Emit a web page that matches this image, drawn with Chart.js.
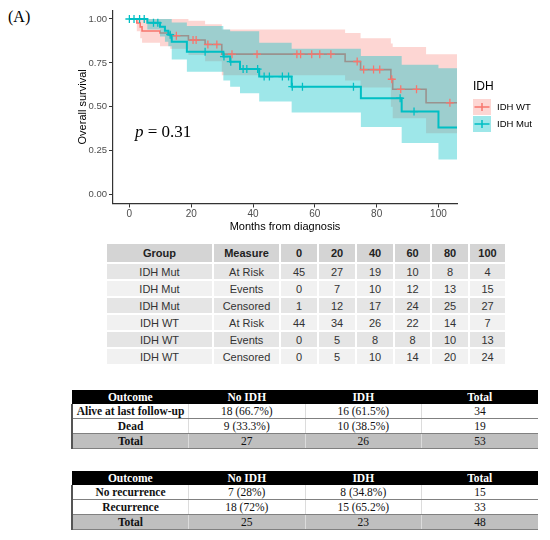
<!DOCTYPE html>
<html>
<head>
<meta charset="utf-8">
<script src="https://cdn.jsdelivr.net/npm/chart.js@4.4.1/dist/chart.umd.min.js"></script>
<style>
  html, body { margin: 0; padding: 0; background: #fff; }
  body { width: 550px; height: 540px; position: relative; overflow: hidden; }
  #panel { position: absolute; left: 8px; top: 8px; font: 16px/18px "Liberation Serif", serif; color: #000; }
  #km { position: absolute; left: 0; top: 0; }

  .risk { position: absolute; left: 107px; top: 244px; border-collapse: collapse; table-layout: fixed;
          font-family: "Liberation Sans", Arial, sans-serif; font-size: 11px; color: #333; }
  .risk th, .risk td { padding: 0; text-align: center; border-right: 2px solid #fff; border-bottom: 2px solid #fff; }
  .risk th { background: #d4d4d4; height: 18px; font-weight: bold; color: #222; }
  .risk td { height: 15px; }
  .risk tr:nth-child(odd) td { background: #f1f1f1; }
  .risk tr:nth-child(even) td { background: #e5e5e5; }

  .ct { position: absolute; left: 71px; width: 467px; border-collapse: collapse; table-layout: fixed;
        font-family: "Liberation Serif", serif; font-size: 11.5px; color: #111; }
  .ct th { background: #000; color: #fff; font-weight: bold; height: 14px; padding: 0; }
  .ct td { height: 14px; padding: 0; text-align: center; border-left: 1px solid #dcdcdc; border-bottom: 1px solid #808080; }
  .ct td:first-child { font-weight: bold; border-left: 2px solid #555; }
  .ct tr.tot td { background: #bfbfbf; }
</style>
</head>
<body>
<div id="panel">(A)</div>
<canvas id="km" width="550" height="240"></canvas>
<table class="risk" id="riskTable"></table>
<table class="ct" id="mortTable" style="top:390px"></table>
<table class="ct" id="recTable" style="top:471px"></table>

<script>
// Axis ticks
const xTicks = [0, 20, 40, 60, 80, 100];
const yTicks = [0, 0.25, 0.5, 0.75, 1];

// IDH WT: step times, survival and confidence band
const wtTime  = [0, 2.4, 3.5, 4.1, 9.9, 13.2, 19.1, 24.5, 29.9, 69.8, 74.8, 84.6, 85.2, 96.0, 106];
const wtSurv  = [1, 0.977, 0.955, 0.932, 0.920, 0.905, 0.880, 0.855, 0.800, 0.758, 0.712, 0.657, 0.600, 0.523, 0.523];
const wtUpper = [1, 1, 1, 1, 1, 1, 0.99, 0.97, 0.94, 0.92, 0.89, 0.86, 0.84, 0.80, 0.80];
const wtLower = [1, 0.93, 0.89, 0.865, 0.845, 0.83, 0.795, 0.76, 0.68, 0.65, 0.61, 0.50, 0.435, 0.35, 0.35];
const wtCensor = [15.2, 20.6, 21.6, 25.4, 28.3, 33.2, 41.3, 54.2, 55.4, 59.0, 61.6, 65.2,
                  73.7, 75.8, 79.0, 81.0, 84.9, 87.8, 92.9, 103.7];

// IDH Mut
const mutTime  = [0, 5.8, 9.9, 11.5, 12.6, 13.7, 18.6, 30.4, 32.6, 35.8, 42.0, 52.5, 74.9, 88.1, 100.0, 106];
const mutSurv  = [1, 0.978, 0.956, 0.933, 0.911, 0.870, 0.814, 0.786, 0.757, 0.715, 0.672, 0.615, 0.549, 0.473, 0.382, 0.382];
const mutUpper = [1, 1, 1, 1, 1, 0.98, 0.96, 0.94, 0.93, 0.93, 0.865, 0.83, 0.79, 0.74, 0.72, 0.72];
const mutLower = [1, 0.94, 0.90, 0.87, 0.845, 0.77, 0.70, 0.65, 0.615, 0.578, 0.53, 0.468, 0.385, 0.294, 0.20, 0.20];
const mutCensor = [0, 1.5, 3.3, 4.8, 7.8, 9.2, 13.2, 24.5, 30.6, 32.8, 36.8, 38.0, 41.5, 43.6, 45.3,
                   49.5, 51.5, 52.7, 56.0, 72.5, 87.6, 92.1];

// Number at risk table
const riskTimes   = [0, 20, 40, 60, 80, 100];
const mutAtRisk   = [45, 27, 19, 10, 8, 4];
const mutEvents   = [0, 7, 10, 12, 13, 15];
const mutCensored = [1, 12, 17, 24, 25, 27];
const wtAtRisk    = [44, 34, 26, 22, 14, 7];
const wtEvents    = [0, 5, 8, 8, 10, 13];
const wtCensored  = [0, 5, 10, 14, 20, 24];

// Outcome tables
const outcomeHeader = ['Outcome', 'No IDH', 'IDH', 'Total'];
const mortalityRows = [
  ['Alive at last follow-up', '18 (66.7%)', '16 (61.5%)', '34'],
  ['Dead', '9 (33.3%)', '10 (38.5%)', '19'],
  ['Total', '27', '26', '53']
];
const recurrenceRows = [
  ['No recurrence', '7 (28%)', '8 (34.8%)', '15'],
  ['Recurrence', '18 (72%)', '15 (65.2%)', '33'],
  ['Total', '25', '23', '48']
];

const RED = '#F8766D', TEAL = '#00BFC4';
const RED_BAND = 'rgba(248, 118, 109, 0.30)', TEAL_BAND = 'rgba(0, 191, 196, 0.38)';
const SANS = '"Liberation Sans", Arial, sans-serif';

const pts = (t, v) => t.map((x, i) => ({ x, y: v[i] }));
// survival value in force at time t (for placing censor marks on the curve)
const survAt = (times, surv, t) => {
  let s = surv[0];
  for (let i = 0; i < times.length; i++) if (times[i] <= t) s = surv[i];
  return s;
};
const censorPts = (c, times, surv) => c.map(t => ({ x: t, y: survAt(times, surv, t) }));

const bandSet = (data, color, fill, order) => ({
  data, fill, order, stepped: true,
  backgroundColor: color, borderColor: 'transparent', borderWidth: 0, pointRadius: 0
});
const lineSet = (data, color, width, order) => ({
  data, order, stepped: true, fill: false,
  borderColor: color, borderWidth: width, pointRadius: 0
});
const censorSet = (data, color, order) => ({
  data, order, showLine: false,
  pointStyle: 'cross', pointRadius: 4, pointBorderWidth: 1.3,
  pointBorderColor: color, pointBackgroundColor: color
});

// p value and legend drawn on top of the plot
const kmExtras = {
  id: 'kmExtras',
  afterDraw(chart) {
    const { ctx } = chart;
    const x = chart.scales.x, y = chart.scales.y;
    ctx.save();
    ctx.fillStyle = '#000';
    ctx.textBaseline = 'alphabetic';
    const px = x.getPixelForValue(1.8), py = y.getPixelForValue(0.326);
    ctx.font = 'italic 17px "Liberation Serif"';
    ctx.fillText('p', px, py);
    const pw = ctx.measureText('p').width;
    ctx.font = '17px "Liberation Serif"';
    ctx.fillText(' = 0.31', px + pw, py);

    // legend
    const lx = chart.chartArea.right + 16;
    ctx.font = '12px ' + SANS;
    ctx.textBaseline = 'middle';
    ctx.fillText('IDH', lx, 87);
    const keys = [['IDH WT', RED, RED_BAND, 99], ['IDH Mut', TEAL, TEAL_BAND, 116]];
    keys.forEach(([label, col, band, top]) => {
      ctx.fillStyle = '#fff';
      ctx.fillRect(lx, top, 18, 16);
      ctx.fillStyle = band;
      ctx.fillRect(lx, top, 18, 16);
      ctx.strokeStyle = col;
      ctx.lineWidth = 1.5;
      ctx.beginPath();
      ctx.moveTo(lx + 1.5, top + 8); ctx.lineTo(lx + 16.5, top + 8);
      ctx.moveTo(lx + 9, top + 4); ctx.lineTo(lx + 9, top + 12);
      ctx.stroke();
      ctx.fillStyle = '#000';
      ctx.font = '9.5px ' + SANS;
      ctx.fillText(label, lx + 24, top + 8);
    });
    ctx.restore();
  }
};

new Chart(document.getElementById('km'), {
  type: 'line',
  data: {
    datasets: [
      bandSet(pts(wtTime, wtUpper), RED_BAND, false, 60),
      bandSet(pts(wtTime, wtLower), RED_BAND, '-1', 59),
      lineSet(pts(wtTime, wtSurv), RED, 1.6, 50),
      bandSet(pts(mutTime, mutUpper), TEAL_BAND, false, 40),
      bandSet(pts(mutTime, mutLower), TEAL_BAND, '-1', 39),
      lineSet(pts(mutTime, mutSurv), TEAL, 2, 30),
      censorSet(censorPts(wtCensor, wtTime, wtSurv), RED, 20),
      censorSet(censorPts(mutCensor, mutTime, mutSurv), TEAL, 10)
    ]
  },
  options: {
    responsive: false,
    animation: false,
    events: [],
    layout: { padding: { left: 72, right: 93, top: 10.2, bottom: 2.5 } },
    plugins: { legend: { display: false }, tooltip: { enabled: false } },
    scales: {
      x: {
        type: 'linear', min: -5.3, max: 106,
        afterBuildTicks: s => { s.ticks = xTicks.map(v => ({ value: v })); },
        afterFit: s => { s.height = 34; },
        grid: { drawOnChartArea: false, tickLength: 4, color: '#333' },
        border: { color: '#333', width: 1.2 },
        ticks: { font: { family: SANS, size: 10 }, color: '#4d4d4d', padding: 1, maxRotation: 0 },
        title: { display: true, text: 'Months from diagnosis', color: '#000', font: { family: SANS, size: 11 }, padding: 4 }
      },
      y: {
        type: 'linear', min: -0.05, max: 1.05,
        afterBuildTicks: s => { s.ticks = yTicks.map(v => ({ value: v })); },
        afterFit: s => { s.width = 41; },
        grid: { drawOnChartArea: false, tickLength: 4, color: '#333' },
        border: { color: '#333', width: 1.2 },
        ticks: { font: { family: SANS, size: 9.5 }, color: '#4d4d4d', padding: 2, callback: v => v.toFixed(2) },
        title: { display: true, text: 'Overall survival', color: '#000', font: { family: SANS, size: 11 }, padding: 4 }
      }
    }
  },
  plugins: [kmExtras]
});

// --- tables ---
function buildRiskTable() {
  const t = document.getElementById('riskTable');
  const widths = [106, 67, 38, 38, 38, 37, 38, 37];
  let html = '<colgroup>' + widths.map(w => `<col style="width:${w}px">`).join('') + '</colgroup>';
  html += '<tr><th>Group</th><th>Measure</th>' + riskTimes.map(v => `<th>${v}</th>`).join('') + '</tr>';
  const rows = [
    ['IDH Mut', 'At Risk', mutAtRisk], ['IDH Mut', 'Events', mutEvents], ['IDH Mut', 'Censored', mutCensored],
    ['IDH WT', 'At Risk', wtAtRisk], ['IDH WT', 'Events', wtEvents], ['IDH WT', 'Censored', wtCensored]
  ];
  rows.forEach(([g, m, vals]) => {
    html += `<tr><td>${g}</td><td>${m}</td>` + vals.map(v => `<td>${v}</td>`).join('') + '</tr>';
  });
  t.innerHTML = html;
}

function buildOutcomeTable(id, rows) {
  const t = document.getElementById(id);
  let html = '<tr>' + outcomeHeader.map(h => `<th>${h}</th>`).join('') + '</tr>';
  rows.forEach((r, i) => {
    const cls = i === rows.length - 1 ? ' class="tot"' : '';
    html += `<tr${cls}>` + r.map(c => `<td>${c}</td>`).join('') + '</tr>';
  });
  t.innerHTML = html;
}

buildRiskTable();
buildOutcomeTable('mortTable', mortalityRows);
buildOutcomeTable('recTable', recurrenceRows);
</script>
</body>
</html>
